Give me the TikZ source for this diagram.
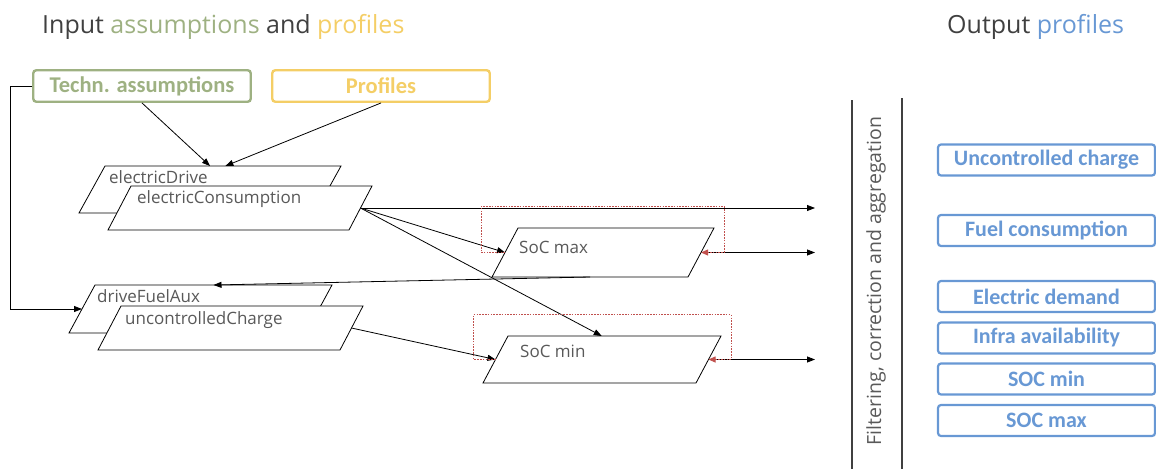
\documentclass[tikz,border=0pt]{standalone}
\usepackage{fontspec}
\setmainfont{Open Sans}
\newfontfamily\boxfont{Carlito}
\usetikzlibrary{arrows.meta,calc}

\definecolor{txtdark}{RGB}{64,64,64}
\definecolor{txtgray}{RGB}{89,89,89}
\definecolor{techgreen}{RGB}{158,177,130}
\definecolor{profyellow}{RGB}{244,206,102}
\definecolor{outblue}{RGB}{104,152,212}
\definecolor{loopred}{RGB}{192,80,77}

% parallelogram: name, x/y of top-left corner, width, height, slant
\newcommand\parabox[6]{%
  \coordinate (#1-nw) at (#2,#3);
  \coordinate (#1-ne) at (#2+#4,#3);
  \coordinate (#1-se) at (#2+#4-#6,#3+#5);
  \coordinate (#1-sw) at (#2-#6,#3+#5);
  \filldraw[para] (#1-nw) -- (#1-ne) -- (#1-se) -- (#1-sw) -- cycle;
  \coordinate (#1-w) at ($(#1-nw)!0.5!(#1-sw)$);
  \coordinate (#1-e) at ($(#1-ne)!0.5!(#1-se)$);
  \coordinate (#1-n) at ($(#1-nw)!0.5!(#1-ne)$);
  \coordinate (#1-s) at ($(#1-sw)!0.5!(#1-se)$);
}

\begin{document}
\begin{tikzpicture}[x=1pt,y=-1pt,
  para/.style={draw=black, fill=white, line width=0.8pt},
  lbl/.style={anchor=west, inner sep=0pt, text=txtgray, font=\fontsize{17}{17}\selectfont},
  title/.style={anchor=base west, inner sep=0pt, font=\fontsize{25}{25}\selectfont},
  inbox/.style={draw=#1, text=#1, line width=2.4pt, rounded corners=3pt,
    minimum width=217.5pt, minimum height=31.5pt, inner sep=0pt,
    font=\boxfont\bfseries\fontsize{22.5}{22.5}\selectfont},
  outbox/.style={draw=outblue, text=outblue, line width=2.2pt, rounded corners=3pt,
    minimum width=217pt, minimum height=31pt, inner sep=0pt,
    font=\boxfont\bfseries\fontsize{22}{22}\selectfont},
  arr/.style={draw=black, line width=0.8pt, -{Triangle[length=8pt,width=6pt]}},
  redloop/.style={draw=loopred, line width=0.8pt, dash pattern=on 1.6pt off 1.2pt,
    -{Triangle[length=7pt,width=6pt]}},
  divider/.style={draw=txtdark, line width=1.2pt}
]
\useasboundingbox (0,0) rectangle (1156,469);

% headings
\node[title] (hin) at (42,33) {\textcolor{txtdark}{Input} \textcolor{techgreen}{assumptions} \textcolor{txtdark}{and} \textcolor{profyellow}{profiles}};
\node[title] (hout) at (947,33) {\textcolor{txtdark}{Output} \textcolor{outblue}{profiles}};

% input boxes
\node[inbox=techgreen] (tech) at (142,86) {Techn. assumptions};
\node[inbox=profyellow] (prof) at (381,86) {Profiles};

% calculation blocks
\parabox{ed}{105}{166}{236}{47}{26}
\parabox{ec}{131}{186}{241}{44}{23}
\parabox{smax}{518}{228}{196}{49}{26}
\parabox{dfa}{95}{285}{237}{48}{26}
\parabox{uc}{121}{306}{242}{44}{23}
\parabox{smin}{508}{336}{213}{47}{25}

\node[lbl] (edl) at (109,177) {electricDrive};
\node[lbl] (ecl) at (137,199) {electricConsumption};
\node[lbl] (smaxl) at (519,247) {SoC max};
\node[lbl] (dfal) at (97,296) {driveFuelAux};
\node[lbl] (ucl) at (125,320) {uncontrolledCharge};
\node[lbl] (sminl) at (520,351) {SoC min};

% end of the outgoing arrows
\coordinate (outx) at (815,0);

% connectors
\draw[arr] (tech.south) -- ($(ed-nw)!0.445!(ed-ne)$);
\draw[arr] (prof.south) -- ($(ed-nw)!0.51!(ed-ne)$);
\draw[arr] (tech.west) -- (10,86) |- (dfa-w);
\draw[arr] (ec-e) -- (ec-e -| outx);
\draw[arr] (ec-e) -- (smax-w);
\draw[arr] (ec-e) -- ($(smin-nw)!0.44!(smin-ne)$);
\draw[arr] (smax-s) -- (dfa-n);
\draw[arr] (smax-e) -- (smax-e -| outx);
\draw[arr] (uc-e) -- (smin-w);
\draw[arr] (smin-e) -- (smin-e -| outx);

% feedback loops
\draw[redloop] (smax-w) -- ++(-24,0) -- ++(0,-46.5) -- ++(243,0) -- ++(0,46.5) -- (smax-e);
\draw[redloop] (smin-w) -- ++(-22,0) -- ++(0,-45) -- ++(257.5,0) -- ++(0,45) -- (smin-e);

% post-processing stage
\draw[divider] (852,100) -- (852,469);
\draw[divider] (902,98) -- (902,469);
\node[rotate=90, inner sep=0pt, text=txtgray, font=\fontsize{19.5}{19.5}\selectfont] (filt) at (876,281) {Filtering, correction and aggregation};

% output boxes
\node[outbox] (o1) at (1046.5,160) {Uncontrolled charge};
\node[outbox] (o2) at (1046.5,230.5) {Fuel consumption};
\node[outbox] (o3) at (1046.5,296.5) {Electric demand};
\node[outbox] (o4) at (1046.5,338) {Infra availability};
\node[outbox] (o5) at (1046.5,379) {SOC min};
\node[outbox] (o6) at (1046.5,420.5) {SOC max};
\end{tikzpicture}
\end{document}
